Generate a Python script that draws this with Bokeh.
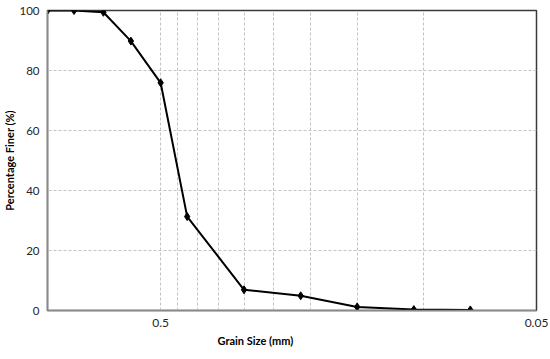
from bokeh.plotting import figure
from bokeh.models import Range1d, FixedTicker, CustomJSTickFormatter, Title
from bokeh.embed import file_html
from bokeh.resources import INLINE

# Data: sieve opening (mm) vs percentage finer
sieve_mm = [1.0, 0.85, 0.71, 0.6, 0.5, 0.425, 0.3, 0.212, 0.15, 0.106, 0.075]
finer = [100, 100, 99.4, 89.8, 75.9, 31.3, 6.9, 4.9, 1.2, 0.3, 0.2]

x_ticks = [0.5, 0.05]
x_grid_lines = [0.5, 0.45, 0.4, 0.35, 0.3, 0.25, 0.2, 0.15, 0.1]
y_ticks = [0, 20, 40, 60, 80, 100]

FONT = "Lato"

p = figure(width=550, height=359, x_axis_type="log",
           x_range=Range1d(1.0, 0.05), y_range=Range1d(0, 100),
           output_backend="svg", toolbar_location=None,
           min_border_left=45, min_border_right=14, min_border_top=10, min_border_bottom=49)

p.background_fill_color = "white"
p.border_fill_color = "white"
p.outline_line_color = "#3a3a3a"
p.outline_line_width = 1.5

# grids
p.xgrid.ticker = FixedTicker(ticks=x_grid_lines)
p.ygrid.ticker = FixedTicker(ticks=[20, 40, 60, 80])
for g in (p.xgrid, p.ygrid):
    g.grid_line_color = "#c4c4c4"
    g.grid_line_dash = "3 2"
    g.grid_line_width = 1

# axes
p.xaxis.ticker = FixedTicker(ticks=x_ticks)
p.xaxis.formatter = CustomJSTickFormatter(code="return tick.toString()")
p.yaxis.ticker = FixedTicker(ticks=y_ticks)
for ax in (p.xaxis, p.yaxis):
    ax.axis_line_color = "#8a8a8a"
    ax.axis_line_width = 1.5
    ax.major_tick_line_color = None
    ax.minor_tick_line_color = None
    ax.major_tick_out = 0
    ax.major_tick_in = 0
    ax.major_label_text_font = FONT
    ax.major_label_text_font_size = "12px"
    ax.major_label_text_color = "#262626"
p.yaxis.major_label_text_font_size = "11.5px"
p.xaxis.major_label_standoff = 8
p.yaxis.major_label_standoff = 8

p.yaxis.axis_label = "Percentage Finer (%)"
p.yaxis.axis_label_standoff = 0
p.yaxis.axis_label_text_font = FONT
p.yaxis.axis_label_text_font_size = "11px"
p.yaxis.axis_label_text_font_style = "bold"
p.yaxis.axis_label_text_color = "black"

# curve
p.line(sieve_mm, finer, line_color="black", line_width=2)
p.scatter(sieve_mm, finer, marker="diamond", size=8, fill_color="black", line_color="black")

# x axis title, shifted left of centre as in the reference
p.add_layout(Title(text="Grain Size (mm)", align="left", offset=170, standoff=4,
                   text_font=FONT, text_font_size="11px", text_font_style="bold",
                   text_color="black"), "below")

open("out.html", "w").write(file_html(p, INLINE))
